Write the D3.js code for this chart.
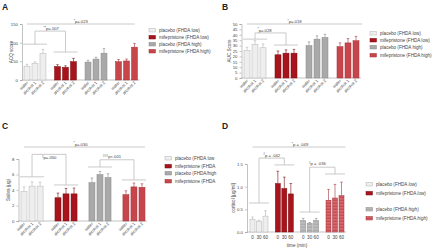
<!DOCTYPE html>
<html>
<head>
<meta charset="utf-8">
<script src="https://cdn.jsdelivr.net/npm/d3@7"></script>
<style>
body { margin: 0; background: #fff; }
svg { display: block; font-family: "Liberation Sans", Arial, sans-serif; }
</style>
</head>
<body>
<div id="chart"></div>
<script>
// ---- data ----
var groupNames = ["placebo (FHDA low)", "mifepristone (FHDA low)", "placebo (FHDA high)", "mifepristone (FHDA high)"];
var legendNamesC = ["placebo (FHDA low", "mifepristone (FHDA", "placebo (FHDA/high", "mifepristone (FHDA"];
var conditionLabels = ["water", "alcohol 1", "alcohol 2"];
var timeLabels = ["0", "30", "60"];

var acqMean = [[37, 44, 71], [36, 34, 49], [48, 56, 72], [49, 51, 88]];
var acqErr = [[5, 5, 11], [5, 4, 9], [5, 5, 12], [6, 5, 10]];
var aucMean = [[25.5, 31, 28], [21.5, 23, 23], [30, 36, 37.5], [29, 32.5, 34.5]];
var aucErr = [[3, 3.5, 3.5], [3.5, 3, 3.5], [3.5, 3, 3], [3.5, 4, 4]];
var salivaMean = [[3.8, 4.5, 4.5], [3.0, 3.5, 3.5], [4.95, 6.0, 5.6], [3.4, 4.4, 4.35]];
var salivaErr = [[0.6, 0.55, 0.5], [0.6, 0.7, 0.75], [0.6, 0.4, 0.5], [0.5, 0.5, 0.45]];
var cortisolMean = [[0.28, 0.24, 0.35], [1.07, 0.96, 0.84], [0.25, 0.19, 0.25], [0.70, 0.75, 0.80]];
var cortisolErr = [[0.05, 0.02, 0.12], [0.27, 0.25, 0.23], [0.05, 0.02, 0.05], [0.24, 0.30, 0.30]];

var acqTicks = [0, 50, 100, 150];
var aucTicks = [0, 5, 10, 15, 20, 25, 30, 35, 40, 45, 50];
var salivaTicks = [0, 2, 4, 6, 8];
var cortisolTicks = [0, 0.5, 1.0, 1.5];

// ---- styles ----
var fills = ["#eeeeee", "#a8141b", "#a9a9a9", "#c6464c"];
var strokes = ["#b4b4b4", "#7c0d12", "#8a8a8a", "#a3343a"];
var lineCol = "#bdbdbd", axisCol = "#9a9a9a", txtCol = "#444";

var svg = d3.select("#chart").append("svg")
  .attr("width", 440)
  .attr("height", 250);

var defs = svg.append("defs");
function hatch(id, bg, fg) {
  var p = defs.append("pattern").attr("id", id)
    .attr("patternUnits", "userSpaceOnUse").attr("width", 4).attr("height", 1.5);
  p.append("rect").attr("width", 4).attr("height", 1.5).attr("fill", bg);
  p.append("rect").attr("y", 0).attr("width", 4).attr("height", 0.5).attr("fill", fg);
}
hatch("hGrey", "#a9a9a9", "#d0d0d0");
hatch("hRed", "#c6464c", "#e08a8e");

function drawPanel(p) {
  var g = svg.append("g");
  var y = d3.scaleLinear().domain(p.yDomain).range([p.yBottom, p.yTop]);
  var xg = d3.scaleBand().domain(d3.range(4)).range(p.xRange).paddingInner(p.groupPad);
  var xc = d3.scaleBand().domain(d3.range(3)).range([0, xg.bandwidth()]).paddingInner(p.barPad);
  var fillFor = p.fillFor || function(i) { return fills[i]; };

  // panel letter
  g.append("text").attr("x", p.letterX).attr("y", p.letterY)
    .attr("font-size", 8.5).attr("font-weight", "bold").attr("fill", "#222").text(p.letter);

  // y axis
  var ax = g.append("g").attr("transform", "translate(" + p.axisX + ",0)")
    .call(d3.axisLeft(y).tickValues(p.ticks).tickSize(2).tickPadding(2).tickFormat(p.tickFormat || d3.format("")));
  ax.select(".domain").attr("stroke", axisCol).attr("stroke-width", 0.6);
  ax.selectAll(".tick line").attr("stroke", axisCol).attr("stroke-width", 0.6);
  ax.selectAll(".tick text").attr("font-size", 4.3).attr("fill", txtCol).attr("font-family", null);

  g.append("text")
    .attr("transform", "translate(" + p.yTitleX + "," + (p.yBottom + p.yTop) / 2 + ") rotate(-90)")
    .attr("text-anchor", "middle").attr("font-size", 4.6).attr("fill", txtCol).text(p.yTitle);

  // baseline
  g.append("line").attr("x1", p.axisX).attr("x2", p.xRange[1] + 2)
    .attr("y1", p.yBottom).attr("y2", p.yBottom).attr("stroke", axisCol).attr("stroke-width", 0.6);

  var rows = [];
  p.mean.forEach(function(vals, gi) {
    vals.forEach(function(v, ci) { rows.push({ g: gi, c: ci, v: v, e: p.err[gi][ci] }); });
  });
  var bx = function(d) { return xg(d.g) + xc(d.c); };

  // error bars (upper only)
  var eb = g.append("g").selectAll("g").data(rows).enter().append("g")
    .attr("stroke", function(d) { return strokes[d.g]; }).attr("stroke-width", 0.6);
  eb.append("line")
    .attr("x1", function(d) { return bx(d) + xc.bandwidth() / 2; })
    .attr("x2", function(d) { return bx(d) + xc.bandwidth() / 2; })
    .attr("y1", function(d) { return y(d.v); })
    .attr("y2", function(d) { return y(d.v + d.e); });
  eb.append("line")
    .attr("x1", function(d) { return bx(d) + xc.bandwidth() / 2 - 1.3; })
    .attr("x2", function(d) { return bx(d) + xc.bandwidth() / 2 + 1.3; })
    .attr("y1", function(d) { return y(d.v + d.e); })
    .attr("y2", function(d) { return y(d.v + d.e); });

  g.append("g").selectAll("rect").data(rows).enter().append("rect")
    .attr("x", bx)
    .attr("y", function(d) { return y(d.v); })
    .attr("width", xc.bandwidth())
    .attr("height", function(d) { return y(0) - y(d.v); })
    .attr("fill", function(d) { return fillFor(d.g); })
    .attr("stroke", function(d) { return strokes[d.g]; })
    .attr("stroke-width", 0.5);

  // x labels
  if (p.rotLabels) {
    g.append("g").selectAll("text").data(rows).enter().append("text")
      .attr("transform", function(d) {
        return "translate(" + (bx(d) + xc.bandwidth() / 2 + 1.5) + "," + (p.yBottom + 3) + ") rotate(-45)";
      })
      .attr("text-anchor", "end").attr("font-size", 4.2).attr("fill", txtCol)
      .text(function(d) { return p.rotLabels[d.c]; });
  } else {
    g.append("g").selectAll("text").data(rows).enter().append("text")
      .attr("x", function(d) { return bx(d) + xc.bandwidth() / 2; })
      .attr("y", p.yBottom + 6.5)
      .attr("text-anchor", "middle").attr("font-size", 4.6).attr("fill", txtCol)
      .text(function(d) { return p.flatLabels[d.c]; });
    g.append("text").attr("x", p.xTitleX).attr("y", p.yBottom + 15)
      .attr("text-anchor", "middle").attr("font-size", 4.6).attr("fill", txtCol).text(p.xTitle);
  }

  // significance annotations
  function sigText(x, yy, mark, label) {
    var t = g.append("text").attr("x", x).attr("y", yy).attr("text-anchor", "middle")
      .attr("font-size", 4.2).attr("fill", txtCol);
    t.append("tspan").attr("font-size", 3.2).attr("dy", -1.2).text(mark);
    t.append("tspan").attr("dy", 1.2).text(label);
  }
  var first = { g: 0, c: 0 }, last = { g: 3, c: 2 };
  var tx1 = bx(first) + xc.bandwidth() / 2, tx2 = bx(last) + xc.bandwidth() / 2 + p.top.ext;
  g.append("line").attr("x1", tx1).attr("x2", tx2).attr("y1", y(p.top.y)).attr("y2", y(p.top.y))
    .attr("stroke", lineCol).attr("stroke-width", 0.8);
  sigText((tx1 + tx2) / 2 + p.top.dx, y(p.top.y) - 1.3, p.top.mark, p.top.label);

  p.pairs.forEach(function(b) {
    var cA = xg(b.a) + xg.bandwidth() / 2, cB = xg(b.b) + xg.bandwidth() / 2;
    [[b.a, b.ya], [b.b, b.yb]].forEach(function(s) {
      g.append("line").attr("x1", xg(s[0]) - 1).attr("x2", xg(s[0]) + xg.bandwidth() + 1)
        .attr("y1", y(s[1])).attr("y2", y(s[1])).attr("stroke", lineCol).attr("stroke-width", 0.8);
    });
    g.append("path")
      .attr("d", "M" + cA + "," + y(b.ya) + "V" + y(b.y) + "H" + cB + "V" + y(b.yb))
      .attr("fill", "none").attr("stroke", lineCol).attr("stroke-width", 0.8);
    sigText((cA + cB) / 2 + b.dx, y(b.y) + b.dy, b.mark, b.label);
  });

  // legend
  var lg = g.append("g").selectAll("g").data(p.legend).enter().append("g")
    .attr("transform", function(d, i) { return "translate(" + p.legendX + "," + p.legendY[i] + ")"; });
  lg.append("rect").attr("x", 0).attr("y", -2.6).attr("width", 6.5).attr("height", 3.6)
    .attr("fill", function(d, i) { return fillFor(i); })
    .attr("stroke", function(d, i) { return strokes[i]; }).attr("stroke-width", 0.5);
  var lt = lg.append("text").attr("x", 10).attr("y", 1).attr("font-size", 4.6).attr("fill", txtCol);
  if (p.italicLegend) {
    lt.each(function(d) {
      var m = d.match(/^(.*)(low|high)(\))$/);
      var t = d3.select(this);
      t.append("tspan").text(m[1]);
      t.append("tspan").attr("font-style", "italic").text(m[2]);
      t.append("tspan").text(m[3]);
    });
  } else {
    lt.text(function(d) { return d; });
  }
}

drawPanel({
  letter: "A", letterX: 2, letterY: 10,
  mean: acqMean, err: acqErr, yDomain: [0, 150], ticks: acqTicks,
  yBottom: 80, yTop: 24, axisX: 22, xRange: [24, 137.5], groupPad: 0.28, barPad: 0.25,
  yTitle: "ACQ score", yTitleX: 12.5, rotLabels: conditionLabels,
  top: { y: 150, ext: 0, dx: 0, mark: "*", label: "p=.023" },
  pairs: [{ a: 0, b: 1, ya: 96, yb: 75, y: 131, dx: 1, dy: -0.8, mark: "**", label: "p=.007" }],
  legend: groupNames, legendX: 149, legendY: [31, 38, 45, 52]
});

drawPanel({
  letter: "B", letterX: 222, letterY: 10,
  mean: aucMean, err: aucErr, yDomain: [0, 50], ticks: aucTicks,
  yBottom: 78, yTop: 24, axisX: 241.5, xRange: [244, 359], groupPad: 0.29, barPad: 0.25,
  yTitle: "AUC Score", yTitleX: 231, rotLabels: conditionLabels,
  top: { y: 50, ext: 6, dx: -10, mark: "*", label: "p=.018" },
  pairs: [{ a: 0, b: 1, ya: 36, yb: 30.5, y: 41.7, dx: -6, dy: -1.3, mark: "*", label: "p=.028" }],
  legend: groupNames, legendX: 370, legendY: [34, 41, 48, 56]
});

drawPanel({
  letter: "C", letterX: 2, letterY: 129,
  mean: salivaMean, err: salivaErr, yDomain: [0, 8], ticks: salivaTicks,
  yBottom: 221, yTop: 159, axisX: 18.5, xRange: [21, 145], groupPad: 0.35, barPad: 0.25,
  yTitle: "Saliva (\u00b5g)", yTitleX: 9.5, rotLabels: conditionLabels,
  top: { y: 9.55, ext: 3, dx: -4, mark: "*", label: "p=.030" },
  pairs: [
    { a: 0, b: 1, ya: 5.7, yb: 4.65, y: 8.6, dx: 0, dy: 5, mark: "#", label: "p=.050" },
    { a: 2, b: 3, ya: 6.97, yb: 5.3, y: 7.9, dx: -5, dy: -1.8, mark: "###", label: "p<.001" }
  ],
  legend: legendNamesC, legendX: 165, legendY: [159, 167, 174, 182]
});

drawPanel({
  letter: "D", letterX: 222, letterY: 129,
  mean: cortisolMean, err: cortisolErr, yDomain: [0, 1.5], ticks: cortisolTicks,
  tickFormat: d3.format(".1f"),
  yBottom: 232, yTop: 164, axisX: 247, xRange: [250, 344], groupPad: 0.29, barPad: 0.23,
  yTitle: "cortisol [\u00b5g/ml]", yTitleX: 235, flatLabels: timeLabels,
  xTitle: "time (min)", xTitleX: 297,
  fillFor: function(i) { return i === 2 ? "url(#hGrey)" : i === 3 ? "url(#hRed)" : fills[i]; },
  top: { y: 1.875, ext: 4, dx: 1, mark: "*", label: "p = .049" },
  pairs: [
    { a: 0, b: 1, ya: 0.64, yb: 1.48, y: 1.63, dx: 0, dy: -1.5, mark: "#", label: "p = .042" },
    { a: 2, b: 3, ya: 0.44, yb: 1.28, y: 1.43, dx: -5, dy: -1.8, mark: "#", label: "p = .036" }
  ],
  legend: groupNames, italicLegend: true, legendX: 366, legendY: [185, 194, 210, 219]
});
</script>
</body>
</html>
